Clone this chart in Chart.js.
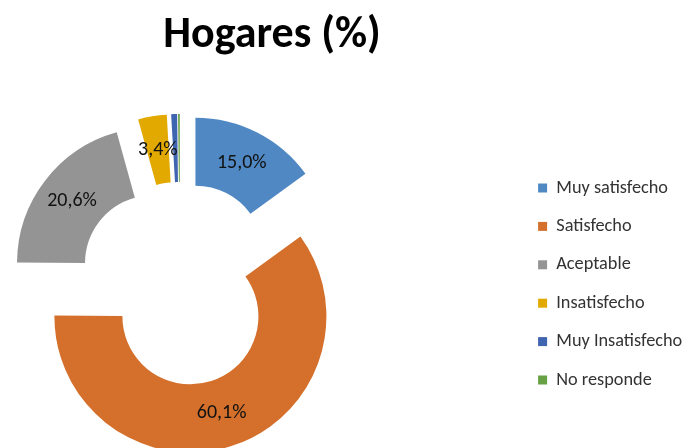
<!DOCTYPE html>
<html>
<head>
<meta charset="utf-8">
<script src="https://cdn.jsdelivr.net/npm/chart.js@4.4.1/dist/chart.umd.min.js"></script>
<style>
  html, body { margin: 0; padding: 0; background: #ffffff; }
  #wrap { position: relative; width: 689px; height: 448px; overflow: hidden; }
  #title {
    position: absolute; left: 0; top: 0; width: 544px; text-align: center;
    font-family: Carlito, Lato, "Open Sans", sans-serif; font-weight: bold;
    font-size: 44px; line-height: 64px; color: #000;
  }
  canvas { position: absolute; left: -158px; top: 0; }
</style>
</head>
<body>
<div id="wrap">
  <canvas id="c" width="847" height="448"></canvas>
  <div id="title">Hogares (%)</div>
</div>
<script>
const categories = ['Muy satisfecho', 'Satisfecho', 'Aceptable', 'Insatisfecho', 'Muy Insatisfecho', 'No responde'];
const values = [15.0, 60.1, 20.6, 3.4, 0.7, 0.2];
const colors = ['#4F88C2', '#D4702B', '#949494', '#E2A900', '#3F64B0', '#67A144'];

const FONT = 'Carlito, Lato, "Open Sans", sans-serif';

// Excel-like exploded slices: move every slice outward along its mid angle
const explodePlugin = {
  id: 'explode',
  afterDatasetUpdate(chart, args) {
    const frac = chart.options.plugins.explode.fraction;
    args.meta.data.forEach(arc => {
      const mid = (arc.startAngle + arc.endAngle) / 2;
      const d = arc.outerRadius * frac;
      arc.x += Math.cos(mid) * d;
      arc.y += Math.sin(mid) * d;
    });
  }
};

// percentage labels inside the slices
const labelPlugin = {
  id: 'sliceLabels',
  afterDatasetsDraw(chart) {
    const ctx = chart.ctx;
    const meta = chart.getDatasetMeta(0);
    const data = chart.data.datasets[0].data;
    ctx.save();
    ctx.font = '20px ' + FONT;
    ctx.fillStyle = '#111';
    ctx.textAlign = 'center';
    ctx.textBaseline = 'middle';
    meta.data.forEach((arc, i) => {
      if (data[i] < 1) return;
      const p = arc.getCenterPoint();
      ctx.fillText(data[i].toFixed(1).replace('.', ',') + '%', p.x, p.y);
    });
    ctx.restore();
  }
};

new Chart(document.getElementById('c'), {
  type: 'doughnut',
  data: {
    labels: categories,
    datasets: [{
      data: values,
      backgroundColor: colors,
      borderWidth: 0,
      hoverOffset: 0,
      clip: false
    }]
  },
  options: {
    responsive: false,
    animation: false,
    radius: 136,
    cutout: '50%',
    layout: { padding: { left: 0, right: 0, top: 120, bottom: 0 } },
    plugins: {
      explode: { fraction: 0.25 },
      title: { display: false },
      tooltip: { enabled: false },
      legend: {
        position: 'right',
        fullSize: false,
        maxWidth: 171,
        labels: {
          boxWidth: 9,
          boxHeight: 9,
          padding: 20.1,
          color: '#333',
          font: { family: FONT, size: 18.3 }
        }
      }
    }
  },
  plugins: [explodePlugin, labelPlugin]
});
</script>
</body>
</html>
